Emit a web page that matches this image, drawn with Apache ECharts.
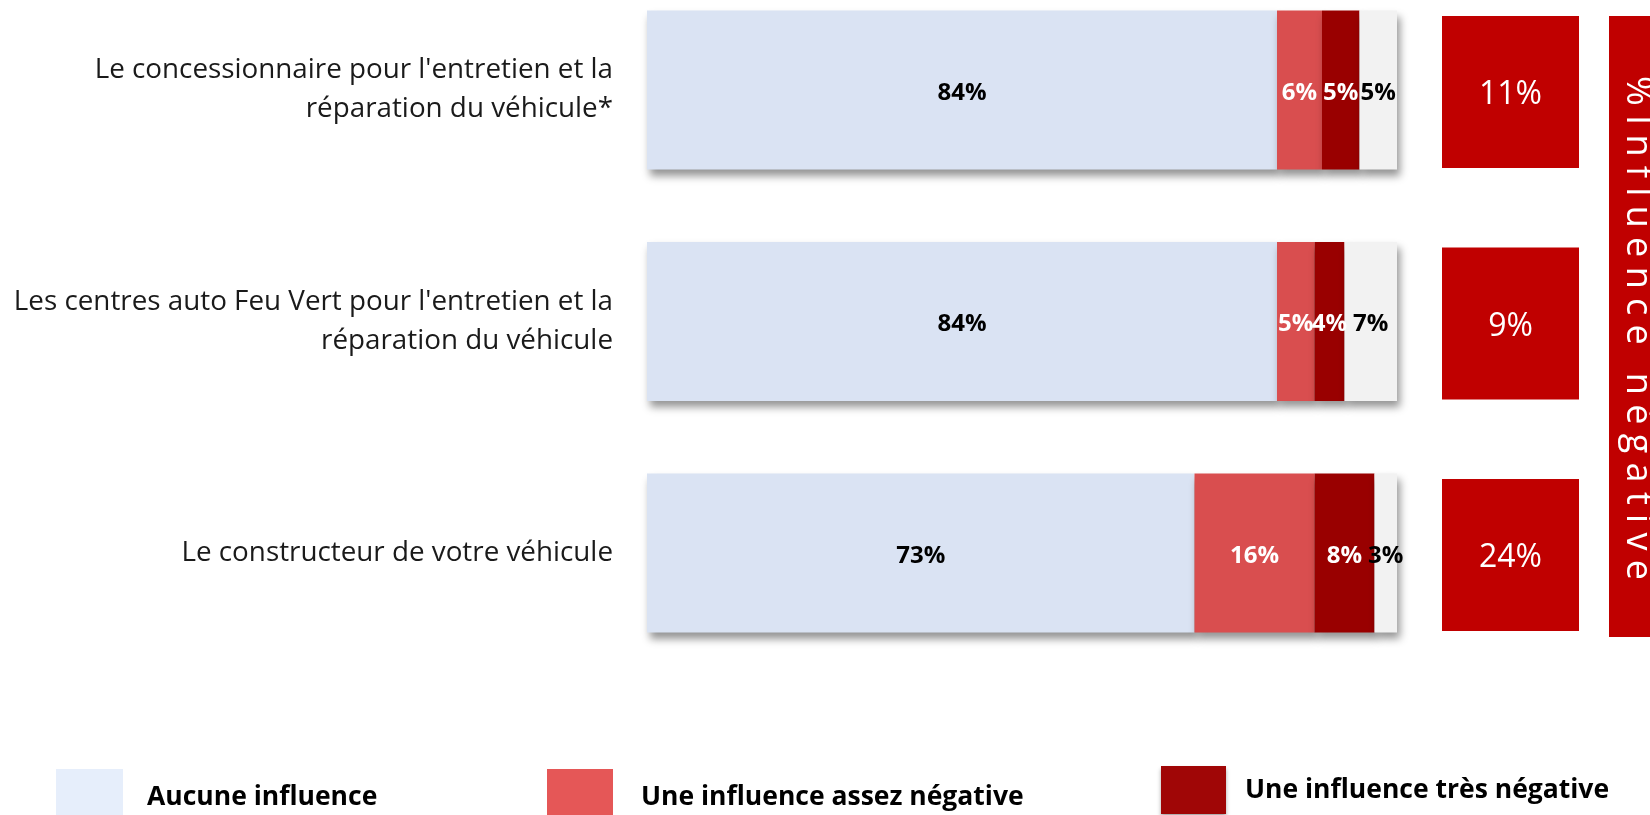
<!DOCTYPE html>
<html>
<head>
<meta charset="utf-8">
<script src="https://cdn.jsdelivr.net/npm/echarts@6/dist/echarts.min.js"></script>
<style>
  html, body { margin: 0; padding: 0; background: #fff; }
  #chart { width: 1650px; height: 815px; }
</style>
</head>
<body>
<div id="chart"></div>
<script>
// ---- data ----
const categories = [
  "Le concessionnaire pour l'entretien et la\nréparation du véhicule*",
  "Les centres auto Feu Vert pour l'entretien et la\nréparation du véhicule",
  "Le constructeur de votre véhicule"
];
const seriesNames = ["Aucune influence", "Une influence assez négative", "Une influence très négative", "Ne sait pas"];
const aucune = [84, 84, 73];
const assezNeg = [6, 5, 16];
const tresNeg = [5, 4, 8];
const nsp = [5, 7, 3];
const negTotal = [11, 9, 24];
const sideTitle = "%Influence négative";

// ---- styles ----
const FONT = '"Open Sans", "Noto Sans", sans-serif';
const segColors = ['#DAE3F3', '#D94E4F', '#990000', '#F2F2F2'];
const legendColors = ['#E6EEFB', '#E55757', '#A00606'];
const labelColors = ['#000', '#fff', '#fff', '#000'];
const valuesList = [aucune, assezNeg, tresNeg, nsp];

const chart = echarts.init(document.getElementById('chart'), null, { renderer: 'canvas' });

const barSeries = valuesList.map((vals, i) => ({
  name: seriesNames[i],
  type: 'bar',
  stack: 'total',
  xAxisIndex: 0,
  yAxisIndex: 0,
  barWidth: 159,
  clip: false,
  data: vals,
  itemStyle: {
    color: segColors[i],
    shadowColor: 'rgba(0,0,0,0.42)',
    shadowBlur: 8,
    shadowOffsetX: 3,
    shadowOffsetY: 6
  },
  label: {
    show: true,
    position: 'inside',
    formatter: '{c}%',
    offset: [0, 3],
    color: labelColors[i],
    fontFamily: FONT,
    fontWeight: 'bold',
    fontSize: 24
  },
  emphasis: { disabled: true }
}));

const boxSeries = {
  name: 'neg',
  type: 'bar',
  xAxisIndex: 1,
  yAxisIndex: 1,
  barWidth: 152,
  clip: false,
  data: negTotal.map(() => 1),
  itemStyle: { color: '#C00000' },
  label: {
    show: true,
    position: 'inside',
    formatter: p => negTotal[p.dataIndex] + '%',
    offset: [0, 3],
    color: '#fff',
    fontFamily: FONT,
    fontSize: 32
  },
  emphasis: { disabled: true }
};

// side banner text with letter spacing (per-character)
const bannerFontSize = 36;
const ctx = document.createElement('canvas').getContext('2d');
ctx.font = bannerFontSize + 'px ' + FONT;
const chars = Array.from(sideTitle);
const widths = chars.map(c => ctx.measureText(c).width);
const natural = widths.reduce((a, b) => a + b, 0);
const textStart = 76, textEnd = 580;
const spacing = (textEnd - textStart - natural) / (chars.length - 1);
const bannerGraphics = [];
let yPos = textStart;
chars.forEach((c, i) => {
  bannerGraphics.push({
    type: 'text',
    x: 1637,
    y: yPos,
    rotation: -Math.PI / 2,
    z: 20,
    style: {
      text: c,
      fill: '#fff',
      font: bannerFontSize + 'px ' + FONT,
      align: 'left',
      verticalAlign: 'middle'
    },
    silent: true
  });
  yPos += widths[i] + spacing;
});

function legendComp(idx, left, top, w, h, padLeft, extra) {
  return {
    show: true,
    left: left,
    top: top,
    orient: 'horizontal',
    selectedMode: false,
    icon: 'rect',
    itemWidth: w,
    itemHeight: h,
    padding: 0,
    data: [{ name: seriesNames[idx], itemStyle: Object.assign({ color: legendColors[idx] }, extra || {}) }],
    textStyle: {
      fontFamily: FONT,
      fontWeight: 'bold',
      fontSize: 26.5,
      color: '#000',
      padding: [0, 0, 0, padLeft]
    }
  };
}

const option = {
  animation: false,
  backgroundColor: '#fff',
  grid: [
    { left: 647, width: 750, top: 90, height: 463, containLabel: false },
    { left: 1442, width: 137, top: 92, height: 463, containLabel: false }
  ],
  xAxis: [
    { type: 'value', gridIndex: 0, min: 0, max: 100, show: false },
    { type: 'value', gridIndex: 1, min: 0, max: 1, show: false }
  ],
  yAxis: [
    {
      type: 'category', gridIndex: 0, data: categories, inverse: true, boundaryGap: false,
      axisLine: { show: false }, axisTick: { show: false }, splitLine: { show: false },
      axisLabel: {
        margin: 34, fontFamily: FONT, fontSize: 27.8, color: '#1a1a1a',
        lineHeight: 39, align: 'right', padding: [6, 0, 0, 0]
      }
    },
    {
      type: 'category', gridIndex: 1, data: categories, inverse: true, boundaryGap: false, show: false
    }
  ],
  legend: [
    legendComp(0, 56, 769, 67, 56, 19),
    legendComp(1, 547, 769, 66, 56, 23),
    legendComp(2, 1161, 766, 65, 48, 14, { shadowColor: 'rgba(0,0,0,0.35)', shadowBlur: 4, shadowOffsetY: 3 })
  ],
  series: barSeries.concat([boxSeries]),
  graphic: [
    {
      type: 'rect',
      shape: { x: 1609, y: 16, width: 60, height: 621 },
      style: { fill: '#C00000' },
      silent: true,
      z: 10
    }
  ].concat(bannerGraphics)
};

chart.setOption(option);
</script>
</body>
</html>
